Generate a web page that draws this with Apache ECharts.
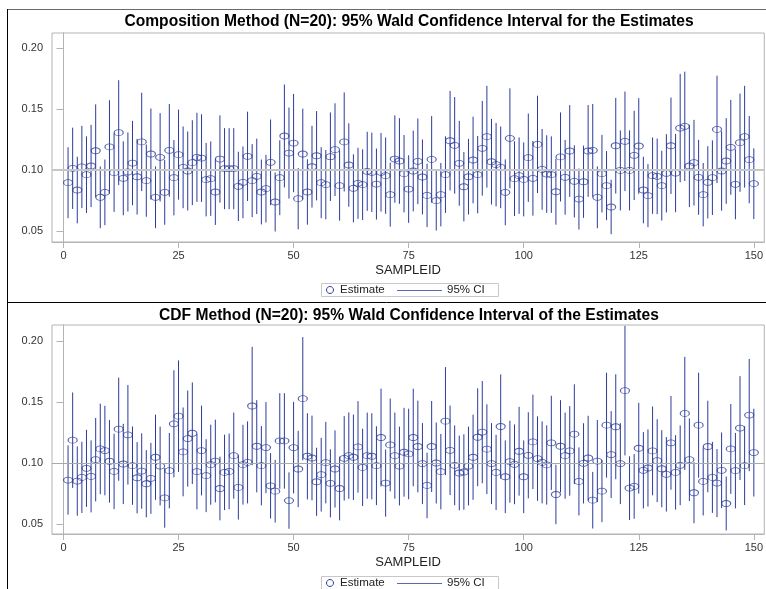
<!DOCTYPE html>
<html>
<head>
<meta charset="utf-8">
<title>Wald Confidence Intervals</title>
<script src="https://cdn.jsdelivr.net/npm/echarts@6.0.0/dist/echarts.min.js"></script>
<style>
  html, body { margin: 0; padding: 0; background: #fff; }
  #chart { width: 766px; height: 589px; }
</style>
</head>
<body>
<div id="chart"></div>
<script>
// sample ids 1..150
var sampleIds = []
for (var i = 1; i <= 150; i++) {
  sampleIds.push(i)
}

// Composition method: estimate and CI half-width
var compEst = [
  0.0896, 0.1014, 0.0836, 0.1025, 0.0962, 0.1033, 0.1158, 0.0776, 0.0817, 0.1189,
  0.0978, 0.1306, 0.0932, 0.0984, 0.1057, 0.0945, 0.1230, 0.0913, 0.1131, 0.0776,
  0.1104, 0.0817, 0.1161, 0.0937, 0.1126, 0.1022, 0.0992, 0.1060, 0.1104, 0.1098,
  0.0921, 0.0929, 0.0820, 0.1090, 0.1011, 0.1011, 0.1011, 0.0866, 0.0899, 0.1112,
  0.0913, 0.0948, 0.0820, 0.0847, 0.1063, 0.0738, 0.0937, 0.1279, 0.1139, 0.1221,
  0.0765, 0.1131, 0.0820, 0.1027, 0.1117, 0.0896, 0.0880, 0.1109, 0.1167, 0.0872,
  0.1230, 0.1041, 0.0850, 0.0891, 0.0880, 0.0989, 0.0981, 0.0885, 0.0981, 0.0954,
  0.0798, 0.1090, 0.1074, 0.0970, 0.0844, 0.0992, 0.1071, 0.0943, 0.0792, 0.1087,
  0.0749, 0.0798, 0.0962, 0.1240, 0.1202, 0.1055, 0.0863, 0.0945, 0.1082, 0.0962,
  0.1178, 0.1273, 0.1068, 0.1044, 0.1022, 0.0817, 0.1260, 0.0929, 0.0954, 0.0923,
  0.1101, 0.0932, 0.1210, 0.1005, 0.0967, 0.0962, 0.0822, 0.1107, 0.0940, 0.1156,
  0.0907, 0.0762, 0.0904, 0.1156, 0.1161, 0.0776, 0.0970, 0.0872, 0.0697, 0.1199,
  0.0997, 0.1235, 0.0997, 0.1120, 0.1197, 0.0836, 0.0790, 0.0954, 0.0948, 0.0872,
  0.0973, 0.1199, 0.0975, 0.1344, 0.1358, 0.1033, 0.1060, 0.0940, 0.0798, 0.0899,
  0.0937, 0.1333, 0.0992, 0.1074, 0.1186, 0.0883, 0.1224, 0.1273, 0.1085, 0.0888,
]
var compHalf = [
  0.0291, 0.0333, 0.0273, 0.0337, 0.0314, 0.0337, 0.0380, 0.0253, 0.0269, 0.0383,
  0.0321, 0.0430, 0.0303, 0.0324, 0.0346, 0.0310, 0.0403, 0.0296, 0.0373, 0.0253,
  0.0362, 0.0266, 0.0380, 0.0309, 0.0369, 0.0335, 0.0324, 0.0348, 0.0365, 0.0359,
  0.0301, 0.0305, 0.0270, 0.0358, 0.0332, 0.0332, 0.0332, 0.0284, 0.0294, 0.0366,
  0.0299, 0.0309, 0.0266, 0.0277, 0.0351, 0.0242, 0.0307, 0.0422, 0.0373, 0.0403,
  0.0251, 0.0372, 0.0268, 0.0335, 0.0366, 0.0291, 0.0284, 0.0363, 0.0380, 0.0287,
  0.0406, 0.0342, 0.0279, 0.0291, 0.0290, 0.0324, 0.0325, 0.0291, 0.0322, 0.0313,
  0.0262, 0.0358, 0.0351, 0.0317, 0.0277, 0.0331, 0.0351, 0.0307, 0.0260, 0.0355,
  0.0245, 0.0260, 0.0314, 0.0408, 0.0396, 0.0348, 0.0284, 0.0310, 0.0355, 0.0317,
  0.0388, 0.0417, 0.0351, 0.0342, 0.0335, 0.0270, 0.0410, 0.0306, 0.0313, 0.0303,
  0.0362, 0.0306, 0.0399, 0.0331, 0.0318, 0.0314, 0.0270, 0.0365, 0.0307, 0.0376,
  0.0296, 0.0250, 0.0296, 0.0376, 0.0380, 0.0253, 0.0318, 0.0283, 0.0223, 0.0392,
  0.0328, 0.0408, 0.0328, 0.0366, 0.0392, 0.0273, 0.0258, 0.0313, 0.0310, 0.0286,
  0.0321, 0.0395, 0.0321, 0.0444, 0.0448, 0.0337, 0.0351, 0.0307, 0.0260, 0.0296,
  0.0306, 0.0440, 0.0325, 0.0351, 0.0389, 0.0287, 0.0403, 0.0417, 0.0358, 0.0290,
]

// CDF method
var cdfEst = [
  0.0860, 0.1187, 0.0852, 0.0882, 0.0956, 0.0890, 0.1027, 0.1115, 0.1102, 0.1014,
  0.0931, 0.1277, 0.0992, 0.1231, 0.0978, 0.0879, 0.0934, 0.0830, 0.0874, 0.1047,
  0.0975, 0.0714, 0.0937, 0.1321, 0.1384, 0.1091, 0.1200, 0.1244, 0.0929, 0.1102,
  0.0896, 0.0986, 0.1016, 0.0791, 0.0923, 0.0931, 0.1060, 0.0800, 0.0986, 0.1005,
  0.1467, 0.1137, 0.0978, 0.1126, 0.0813, 0.0769, 0.1181, 0.1181, 0.0692, 0.1126,
  0.0951, 0.1527, 0.1055, 0.1041, 0.0846, 0.0904, 0.1003, 0.0833, 0.0951, 0.0791,
  0.1038, 0.1060, 0.1047, 0.1132, 0.0964, 0.1060, 0.1055, 0.0978, 0.1209, 0.0835,
  0.1148, 0.1060, 0.0975, 0.1088, 0.1074, 0.1209, 0.1135, 0.0995, 0.0816, 0.1135,
  0.1000, 0.0929, 0.1343, 0.1104, 0.0981, 0.0918, 0.0926, 0.0975, 0.1047, 0.1211,
  0.1253, 0.1113, 0.0995, 0.0923, 0.1299, 0.0887, 0.1011, 0.0989, 0.1096, 0.0887,
  0.1063, 0.1173, 0.1036, 0.1005, 0.0984, 0.1165, 0.0742, 0.1137, 0.1060, 0.1099,
  0.1236, 0.0849, 0.0997, 0.1041, 0.0695, 0.1016, 0.0769, 0.1310, 0.1069, 0.1297,
  0.0995, 0.1593, 0.0794, 0.0808, 0.1121, 0.0940, 0.0959, 0.1099, 0.1019, 0.0953,
  0.0907, 0.1165, 0.0923, 0.0981, 0.1406, 0.1027, 0.0756, 0.1310, 0.0849, 0.1135,
  0.0882, 0.0835, 0.0940, 0.0668, 0.1115, 0.0937, 0.1286, 0.0978, 0.1393, 0.1085,
]
var cdfHalf = [
  0.0284, 0.0391, 0.0284, 0.0292, 0.0316, 0.0295, 0.0342, 0.0371, 0.0367, 0.0339,
  0.0309, 0.0423, 0.0329, 0.0408, 0.0321, 0.0292, 0.0309, 0.0275, 0.0291, 0.0349,
  0.0323, 0.0244, 0.0309, 0.0439, 0.0457, 0.0364, 0.0394, 0.0416, 0.0309, 0.0368,
  0.0299, 0.0328, 0.0339, 0.0261, 0.0309, 0.0310, 0.0353, 0.0264, 0.0327, 0.0336,
  0.0485, 0.0378, 0.0325, 0.0373, 0.0268, 0.0257, 0.0391, 0.0391, 0.0231, 0.0375,
  0.0313, 0.0505, 0.0353, 0.0347, 0.0279, 0.0302, 0.0334, 0.0279, 0.0316, 0.0261,
  0.0346, 0.0354, 0.0350, 0.0375, 0.0317, 0.0353, 0.0353, 0.0323, 0.0401, 0.0275,
  0.0380, 0.0353, 0.0323, 0.0364, 0.0371, 0.0400, 0.0376, 0.0332, 0.0269, 0.0373,
  0.0332, 0.0309, 0.0443, 0.0367, 0.0327, 0.0306, 0.0309, 0.0323, 0.0349, 0.0401,
  0.0419, 0.0368, 0.0332, 0.0308, 0.0427, 0.0298, 0.0336, 0.0327, 0.0364, 0.0298,
  0.0353, 0.0387, 0.0346, 0.0336, 0.0325, 0.0386, 0.0244, 0.0378, 0.0353, 0.0367,
  0.0409, 0.0279, 0.0329, 0.0346, 0.0232, 0.0336, 0.0254, 0.0430, 0.0356, 0.0430,
  0.0332, 0.0531, 0.0261, 0.0265, 0.0372, 0.0313, 0.0316, 0.0364, 0.0340, 0.0316,
  0.0305, 0.0384, 0.0305, 0.0327, 0.0464, 0.0339, 0.0250, 0.0430, 0.0279, 0.0375,
  0.0291, 0.0279, 0.0310, 0.0221, 0.0368, 0.0309, 0.0426, 0.0323, 0.0460, 0.0360,
]

var xTicks = [0, 25, 50, 75, 100, 125, 150]
var yTicks = [0.05, 0.10, 0.15, 0.20]
var refValue = 0.10

var titles = [
  'Composition Method (N=20): 95% Wald Confidence Interval for the Estimates',
  'CDF Method (N=20): 95% Wald Confidence Interval of the Estimates',
]

var FONT = '"Liberation Sans", Arial, sans-serif'
var BLUE = '#2c3c9a'
var AXIS_GRAY = '#b4b4b4'

const buildPoints = (est) => est.map((v, i) => [sampleIds[i], v])
const buildCI = (est, half) =>
  est.map((v, i) => [sampleIds[i], +(v - half[i]).toFixed(4), +(v + half[i]).toFixed(4)])

const renderCI = (params, api) => {
  var x = api.value(0)
  var lo = api.coord([x, api.value(1)])
  var hi = api.coord([x, api.value(2)])
  return {
    type: 'line',
    shape: { x1: lo[0], y1: lo[1], x2: hi[0], y2: hi[1] },
    style: { stroke: BLUE, lineWidth: 1 },
  }
}

const makeXAxis = (idx) => ({
  type: 'value',
  gridIndex: idx,
  min: -2.49,
  max: 152.27,
  name: 'SAMPLEID',
  nameLocation: 'middle',
  nameGap: 22,
  nameTextStyle: { fontSize: 13, color: '#222', fontFamily: FONT },
  axisLine: { show: true, onZero: false, lineStyle: { color: AXIS_GRAY } },
  axisTick: { show: true, length: 6, customValues: xTicks, lineStyle: { color: AXIS_GRAY } },
  axisLabel: { customValues: xTicks, fontSize: 11, color: '#333', margin: 8, fontFamily: FONT },
  splitLine: { show: false },
})

const makeYAxis = (idx, min, max) => ({
  type: 'value',
  gridIndex: idx,
  min: min,
  max: max,
  axisLine: { show: true, lineStyle: { color: AXIS_GRAY } },
  axisTick: { show: true, length: 7, customValues: yTicks, lineStyle: { color: AXIS_GRAY } },
  axisLabel: {
    customValues: yTicks,
    fontSize: 11,
    color: '#333',
    margin: 9,
    fontFamily: FONT,
    formatter: (v) => v.toFixed(2),
  },
  splitLine: { show: false },
})

const makeSeries = (idx, est, half, refStyle) => [
  {
    type: 'custom',
    name: '95% CI',
    xAxisIndex: idx,
    yAxisIndex: idx,
    renderItem: renderCI,
    encode: { x: 0, y: [1, 2] },
    data: buildCI(est, half),
    silent: true,
    z: 2,
    markLine: {
      silent: true,
      symbol: ['none', 'none'],
      label: { show: false },
      lineStyle: refStyle,
      data: [{ yAxis: refValue }],
    },
  },
  {
    type: 'scatter',
    name: 'Estimate',
    xAxisIndex: idx,
    yAxisIndex: idx,
    symbol: 'circle',
    symbolSize: [9, 6],
    itemStyle: { color: 'rgba(255,255,255,0)', borderColor: BLUE, borderWidth: 1 },
    emphasis: { disabled: true },
    silent: true,
    z: 3,
    data: buildPoints(est),
  },
]

const makeLegend = (cy) => ({
  type: 'group',
  children: [
    { type: 'rect', shape: { x: 321.5, y: cy - 6.5, width: 177, height: 13 }, style: { fill: 'none', stroke: '#c8c8c8', lineWidth: 1 } },
    { type: 'ellipse', shape: { cx: 330, cy: cy, rx: 3.5, ry: 3.5 }, style: { fill: 'none', stroke: BLUE, lineWidth: 1 } },
    { type: 'text', style: { x: 340, y: cy, text: 'Estimate', font: '11.5px ' + FONT, fill: '#222', verticalAlign: 'middle' } },
    { type: 'line', shape: { x1: 397, y1: cy + 0.5, x2: 442, y2: cy + 0.5 }, style: { stroke: '#5a68b0', lineWidth: 1 } },
    { type: 'text', style: { x: 447, y: cy, text: '95% CI', font: '11.5px ' + FONT, fill: '#222', verticalAlign: 'middle' } },
  ],
})

const makeTitle = (text, y) => ({
  type: 'text',
  style: { x: 409, y: y, text: text, font: 'bold 15.6px ' + FONT, fill: '#000', align: 'center', verticalAlign: 'middle' },
})

var chart = echarts.init(document.getElementById('chart'), null, { renderer: 'canvas' })

chart.setOption({
  animation: false,
  backgroundColor: '#fff',
  grid: [
    { left: 52, top: 33, width: 715, height: 209, show: true, borderColor: AXIS_GRAY, borderWidth: 1, containLabel: false },
    { left: 52, top: 325, width: 715, height: 209, show: true, borderColor: AXIS_GRAY, borderWidth: 1, containLabel: false },
  ],
  xAxis: [makeXAxis(0), makeXAxis(1)],
  yAxis: [makeYAxis(0, 0.041, 0.2123), makeYAxis(1, 0.0418, 0.2131)],
  series: [].concat(
    makeSeries(0, compEst, compHalf, { color: '#c6c6c6', width: 2, type: 'solid' }),
    makeSeries(1, cdfEst, cdfHalf, { color: '#a4abab', width: 1, type: 'solid' })
  ),
  graphic: [
    { type: 'line', shape: { x1: 7, y1: 9.5, x2: 766, y2: 9.5 }, style: { stroke: '#6a6a6a', lineWidth: 1 } },
    { type: 'line', shape: { x1: 7.5, y1: 9, x2: 7.5, y2: 589 }, style: { stroke: '#000', lineWidth: 1 } },
    { type: 'line', shape: { x1: 7, y1: 302.5, x2: 766, y2: 302.5 }, style: { stroke: '#000', lineWidth: 1 } },
    makeTitle(titles[0], 22),
    makeTitle(titles[1], 316),
    makeLegend(290),
    makeLegend(583),
  ],
})
</script>
</body>
</html>
